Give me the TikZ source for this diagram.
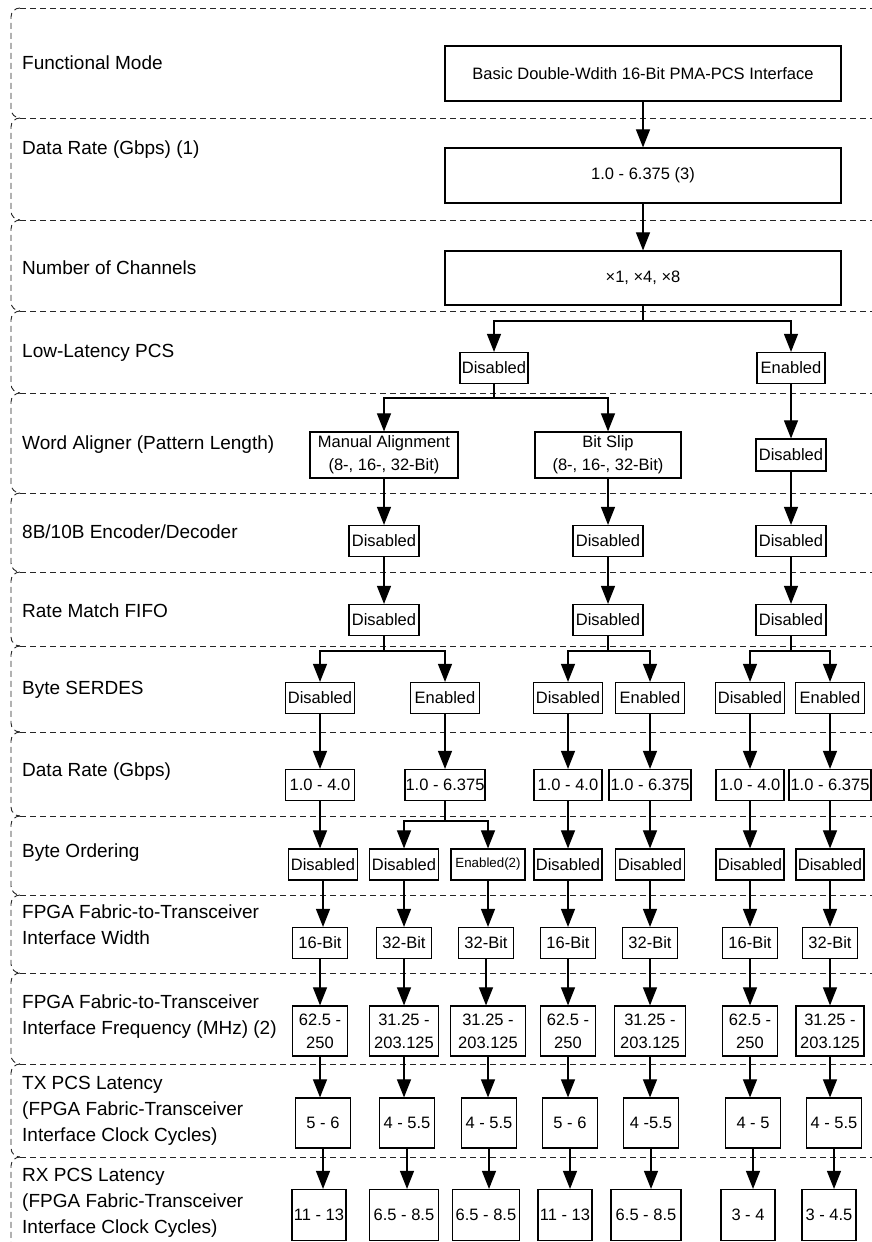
\documentclass[tikz,border=0pt]{standalone}
\usepackage{fontspec}
\setmainfont{Liberation Sans}
\usetikzlibrary{arrows.meta}
\begin{document}
\begin{tikzpicture}[x=1pt,y=-1pt,
  lab/.style={anchor=west, align=left, inner sep=0pt, font=\fontsize{19}{26}\selectfont},
  bx/.style={draw, line width=1.2pt, inner sep=0pt, align=center, font=\fontsize{16.5}{23}\selectfont},
  sm/.style={bx, minimum width=#1, minimum height=31pt},
  conn/.style={line width=1.1pt, -{Triangle[length=18pt,width=14pt]}},
  ln/.style={line width=1.1pt},
  band/.style={dash pattern=on 6pt off 4pt, line width=0.9pt, black!85}]
\useasboundingbox (0,0) rectangle (872,1242);

% bands
\foreach \y in {8,118,220,311,393,493,572,646,732,816,895,973,1064,1157}
  \draw[band] (20,\y) -- (872,\y);
\foreach \t/\b in {8/118,118/220,220/311,311/393,393/493,493/572,572/646,646/732,732/816,816/895,895/973,973/1064,1064/1157}
  \draw[band, rounded corners=9pt] (20,\t) -- (11,\t) -- (11,\b) -- (20,\b);
\draw[band, rounded corners=9pt] (20,1157) -- (11,1157) -- (11,1250);

% labels
\node[lab] (l1) at (22,63) {Functional Mode};
\node[lab] (l2) at (22,150) {Data Rate (Gbps) (1)};
\node[lab] (l3) at (22,268) {Number of Channels};
\node[lab] (l4) at (22,353) {Low-Latency PCS};
\node[lab] (l5) at (22,445) {Word Aligner (Pattern Length)};
\node[lab] (l6) at (22,532) {8B/10B Encoder/Decoder};
\node[lab] (l7) at (22,611) {Rate Match FIFO};
\node[lab] (l8) at (22,690) {Byte SERDES};
\node[lab] (l9) at (22,772) {Data Rate (Gbps)};
\node[lab] (l10) at (22,853) {Byte Ordering};
\node[lab] (l11) at (22,925) {FPGA Fabric-to-Transceiver\\Interface Width};
\node[lab] (l12) at (22,1017) {FPGA Fabric-to-Transceiver\\Interface Frequency (MHz) (2)};
\node[lab] (l13) at (22,1111) {TX PCS Latency\\(FPGA Fabric-Transceiver\\Interface Clock Cycles)};
\node[lab] (l14) at (22,1203) {RX PCS Latency\\(FPGA Fabric-Transceiver\\Interface Clock Cycles)};

% top boxes
\node[bx, minimum width=396pt, minimum height=55pt] (fm) at (643,73.5) {Basic Double-Wdith 16-Bit PMA-PCS Interface};
\node[bx, minimum width=396pt, minimum height=55pt] (dr) at (643,175.5) {1.0 - 6.375 (3)};
\node[bx, minimum width=396pt, minimum height=54pt] (nc) at (643,278) {×1, ×4, ×8};

% low latency
\node[sm=68pt] (lld) at (494,368) {Disabled};
\node[sm=68pt] (lle) at (791,368) {Enabled};

% word aligner
\node[bx, minimum width=148pt, minimum height=46pt] (wam) at (384,455) {Manual Alignment\\(8-, 16-, 32-Bit)};
\node[bx, minimum width=146pt, minimum height=46pt] (wab) at (608,455) {Bit Slip\\(8-, 16-, 32-Bit)};
\node[sm=70pt, minimum height=32pt] (wad) at (791,455) {Disabled};

% 8b10b
\node[sm=70pt] (ed1) at (384,541) {Disabled};
\node[sm=70pt] (ed2) at (608,541) {Disabled};
\node[sm=70pt] (ed3) at (791,541) {Disabled};

% rate match
\node[sm=70pt] (rm1) at (384,620) {Disabled};
\node[sm=70pt] (rm2) at (608,620) {Disabled};
\node[sm=70pt] (rm3) at (791,620) {Disabled};

% byte serdes
\node[sm=69pt] (bs1) at (320,698) {Disabled};
\node[sm=69pt] (bs2) at (445,698) {Enabled};
\node[sm=69pt] (bs3) at (568,698) {Disabled};
\node[sm=69pt] (bs4) at (650,698) {Enabled};
\node[sm=69pt] (bs5) at (750,698) {Disabled};
\node[sm=69pt] (bs6) at (830,698) {Enabled};

% data rate
\node[sm=69pt] (dr1) at (320,785) {1.0 - 4.0};
\node[sm=80pt] (dr2) at (445,785) {1.0 - 6.375};
\node[sm=68pt] (dr3) at (568,785) {1.0 - 4.0};
\node[sm=82pt] (dr4) at (650,785) {1.0 - 6.375};
\node[sm=68pt] (dr5) at (750,785) {1.0 - 4.0};
\node[sm=82pt] (dr6) at (830,785) {1.0 - 6.375};

% byte ordering
\node[sm=69pt] (bo1) at (323,864.5) {Disabled};
\node[sm=69pt] (bo2) at (404,864.5) {Disabled};
\node[sm=74pt, font=\fontsize{13.3}{16}\selectfont] (bo3) at (488,864.5) {Enabled(2)};
\node[sm=68pt] (bo4) at (568,864.5) {Disabled};
\node[sm=69pt] (bo5) at (650,864.5) {Disabled};
\node[sm=68pt] (bo6) at (750,864.5) {Disabled};
\node[sm=68pt] (bo7) at (830,864.5) {Disabled};

% width
\node[sm=55pt] (iw1) at (320,943) {16-Bit};
\node[sm=55pt] (iw2) at (404,943) {32-Bit};
\node[sm=55pt] (iw3) at (486,943) {32-Bit};
\node[sm=55pt] (iw4) at (568,943) {16-Bit};
\node[sm=55pt] (iw5) at (650,943) {32-Bit};
\node[sm=55pt] (iw6) at (750,943) {16-Bit};
\node[sm=55pt] (iw7) at (830,943) {32-Bit};

% frequency
\node[bx, minimum width=55pt, minimum height=50pt] (fq1) at (320,1031) {62.5 -\\250};
\node[bx, minimum width=69pt, minimum height=50pt] (fq2) at (404,1031) {31.25 -\\203.125};
\node[bx, minimum width=75pt, minimum height=50pt] (fq3) at (488,1031) {31.25 -\\203.125};
\node[bx, minimum width=55pt, minimum height=50pt] (fq4) at (568,1031) {62.5 -\\250};
\node[bx, minimum width=71pt, minimum height=50pt] (fq5) at (650,1031) {31.25 -\\203.125};
\node[bx, minimum width=55pt, minimum height=50pt] (fq6) at (750,1031) {62.5 -\\250};
\node[bx, minimum width=68pt, minimum height=50pt] (fq7) at (830,1031) {31.25 -\\203.125};

% tx latency
\node[bx, minimum width=55pt, minimum height=50pt] (tx1) at (323,1123) {5 - 6};
\node[bx, minimum width=55pt, minimum height=50pt] (tx2) at (407,1123) {4 - 5.5};
\node[bx, minimum width=55pt, minimum height=50pt] (tx3) at (489,1123) {4 - 5.5};
\node[bx, minimum width=55pt, minimum height=50pt] (tx4) at (570,1123) {5 - 6};
\node[bx, minimum width=55pt, minimum height=50pt] (tx5) at (651,1123) {4 -5.5};
\node[bx, minimum width=55pt, minimum height=50pt] (tx6) at (753,1123) {4 - 5};
\node[bx, minimum width=55pt, minimum height=50pt] (tx7) at (834,1123) {4 - 5.5};

% rx latency
\node[bx, minimum width=54pt, minimum height=51pt] (rx1) at (319,1215) {11 - 13};
\node[bx, minimum width=69pt, minimum height=51pt] (rx2) at (404,1215) {6.5 - 8.5};
\node[bx, minimum width=67pt, minimum height=51pt] (rx3) at (486,1215) {6.5 - 8.5};
\node[bx, minimum width=54pt, minimum height=51pt] (rx4) at (565,1215) {11 - 13};
\node[bx, minimum width=70pt, minimum height=51pt] (rx5) at (646,1215) {6.5 - 8.5};
\node[bx, minimum width=54pt, minimum height=51pt] (rx6) at (748,1215) {3 - 4};
\node[bx, minimum width=54pt, minimum height=51pt] (rx7) at (829,1215) {3 - 4.5};

% connectors
\draw[conn] (fm) -- (dr);
\draw[conn] (dr) -- (nc);
\coordinate (b1) at (643,321);
\draw[ln] (nc) -- (b1);
\draw[conn] (b1) -| (lld);
\draw[conn] (b1) -| (lle);
\coordinate (b2) at (494,398);
\draw[ln] (lld) -- (b2);
\draw[conn] (b2) -| (wam);
\draw[conn] (b2) -| (wab);
\draw[conn] (lle) -- (wad);
\draw[conn] (wam) -- (ed1);
\draw[conn] (wab) -- (ed2);
\draw[conn] (wad) -- (ed3);
\draw[conn] (ed1) -- (rm1);
\draw[conn] (ed2) -- (rm2);
\draw[conn] (ed3) -- (rm3);
\coordinate (b3) at (384,651);
\coordinate (b4) at (608,651);
\coordinate (b5) at (791,651);
\draw[ln] (rm1) -- (b3);
\draw[ln] (rm2) -- (b4);
\draw[ln] (rm3) -- (b5);
\draw[conn] (b3) -| (bs1);
\draw[conn] (b3) -| (bs2);
\draw[conn] (b4) -| (bs3);
\draw[conn] (b4) -| (bs4);
\draw[conn] (b5) -| (bs5);
\draw[conn] (b5) -| (bs6);
\foreach \i in {1,...,6} \draw[conn] (bs\i) -- (dr\i);
\coordinate (b6) at (445,821);
\draw[conn] (dr1.south) -- (dr1.south |- bo1.north);
\draw[ln] (dr2) -- (b6);
\draw[conn] (b6) -| (bo2);
\draw[conn] (b6) -| (bo3);
\draw[conn] (dr3) -- (bo4);
\draw[conn] (dr4) -- (bo5);
\draw[conn] (dr5) -- (bo6);
\draw[conn] (dr6) -- (bo7);
\foreach \i in {1,...,7} {
  \draw[conn] (bo\i.south) -- (bo\i.south |- iw\i.north);
  \draw[conn] (iw\i.south) -- (iw\i.south |- fq\i.north);
  \draw[conn] (fq\i.south) -- (fq\i.south |- tx\i.north);
  \draw[conn] (tx\i.south) -- (tx\i.south |- rx\i.north);
}
\end{tikzpicture}
\end{document}
